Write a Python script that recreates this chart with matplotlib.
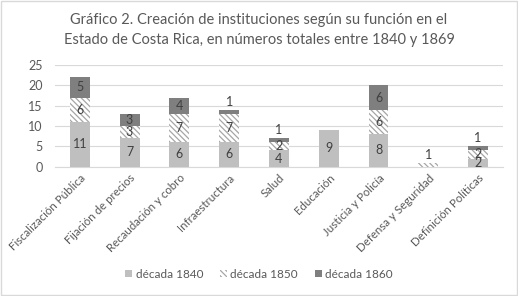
import numpy as np
import matplotlib
matplotlib.use('Agg')
import matplotlib.pyplot as plt
from matplotlib.patches import Rectangle

categories = ['Fiscalización Pública', 'Fijación de precios', 'Recaudación y cobro',
              'Infraestructura', 'Salud', 'Educación', 'Justicia y Policía',
              'Defensa y Seguridad', 'Definición Políticas']
d1840 = [11, 7, 6, 6, 4, 9, 8, 0, 2]
d1850 = [6, 3, 7, 7, 2, 0, 6, 1, 2]
d1860 = [5, 3, 4, 1, 1, 0, 6, 0, 1]
series_names = ['década 1840', 'década 1850', 'década 1860']

plt.rcParams['font.family'] = ['Lato', 'DejaVu Sans']
plt.rcParams['hatch.color'] = '#a6a6a6'
plt.rcParams['hatch.linewidth'] = 0.9
txt = '#595959'

fig = plt.figure(figsize=(5.18, 2.96), dpi=100)
ax = fig.add_axes([0.106, 0.437, 0.865, 0.343])

x = np.arange(len(categories))
w = 0.4
data = [d1840, d1850, d1860]
styles = [dict(color='#bfbfbf'),
          dict(facecolor='white', hatch='\\\\\\\\\\\\', edgecolor='#a6a6a6', linewidth=0),
          dict(color='#7f7f7f')]

bottom = np.zeros(len(categories))
for vals, st, name in zip(data, styles, series_names):
    vals = np.array(vals)
    ax.bar(x, vals, w, bottom=bottom, label=name, zorder=3, **st)
    bottom = bottom + vals

# data labels, the 1s on top go above the bar
tops = np.array(d1840) + np.array(d1850) + np.array(d1860)
bottom = np.zeros(len(categories))
for vals in data:
    for i, v in enumerate(vals):
        if v == 0:
            continue
        if v == 1 and bottom[i] + v == tops[i]:
            ax.text(x[i], tops[i] + 0.5, str(v), ha='center', va='bottom',
                    fontsize=9, color='#404040', zorder=4)
        else:
            ax.text(x[i], bottom[i] + v / 2, str(v), ha='center', va='center',
                    fontsize=9, color='#404040', zorder=4)
    bottom = bottom + np.array(vals)

ax.set_xlim(-0.5, len(categories) - 0.5)
ax.set_ylim(0, 25)
ax.set_yticks(range(0, 26, 5))
ax.yaxis.grid(True, color='#d9d9d9', linewidth=0.8, zorder=0)
for s in ['top', 'right', 'left']:
    ax.spines[s].set_visible(False)
ax.spines['bottom'].set_color('#d9d9d9')
ax.tick_params(axis='both', length=0, colors=txt, labelsize=8.3)
ax.tick_params(axis='y', pad=9, labelsize=9)
ax.tick_params(axis='x', pad=4)
ax.set_xticks(x)
ax.set_xticklabels(categories, rotation=45, ha='right', rotation_mode='anchor')

fig.suptitle('Gráfico 2. Creación de instituciones según su función en el\n'
             'Estado de Costa Rica, en números totales entre 1840 y 1869',
             y=0.955, fontsize=10.5, color=txt, linespacing=1.5)

fig.legend(loc='center', bbox_to_anchor=(0.5, 0.073), ncol=3, frameon=False,
           fontsize=8.5, labelcolor=txt, handlelength=0.6, handleheight=0.6,
           handletextpad=0.3, columnspacing=1.4)

fig.patches.append(Rectangle((0.002, 0.003), 0.996, 0.994, transform=fig.transFigure,
                             fill=False, edgecolor='#d9d9d9', linewidth=1))

fig.savefig('out.png', dpi=100)
